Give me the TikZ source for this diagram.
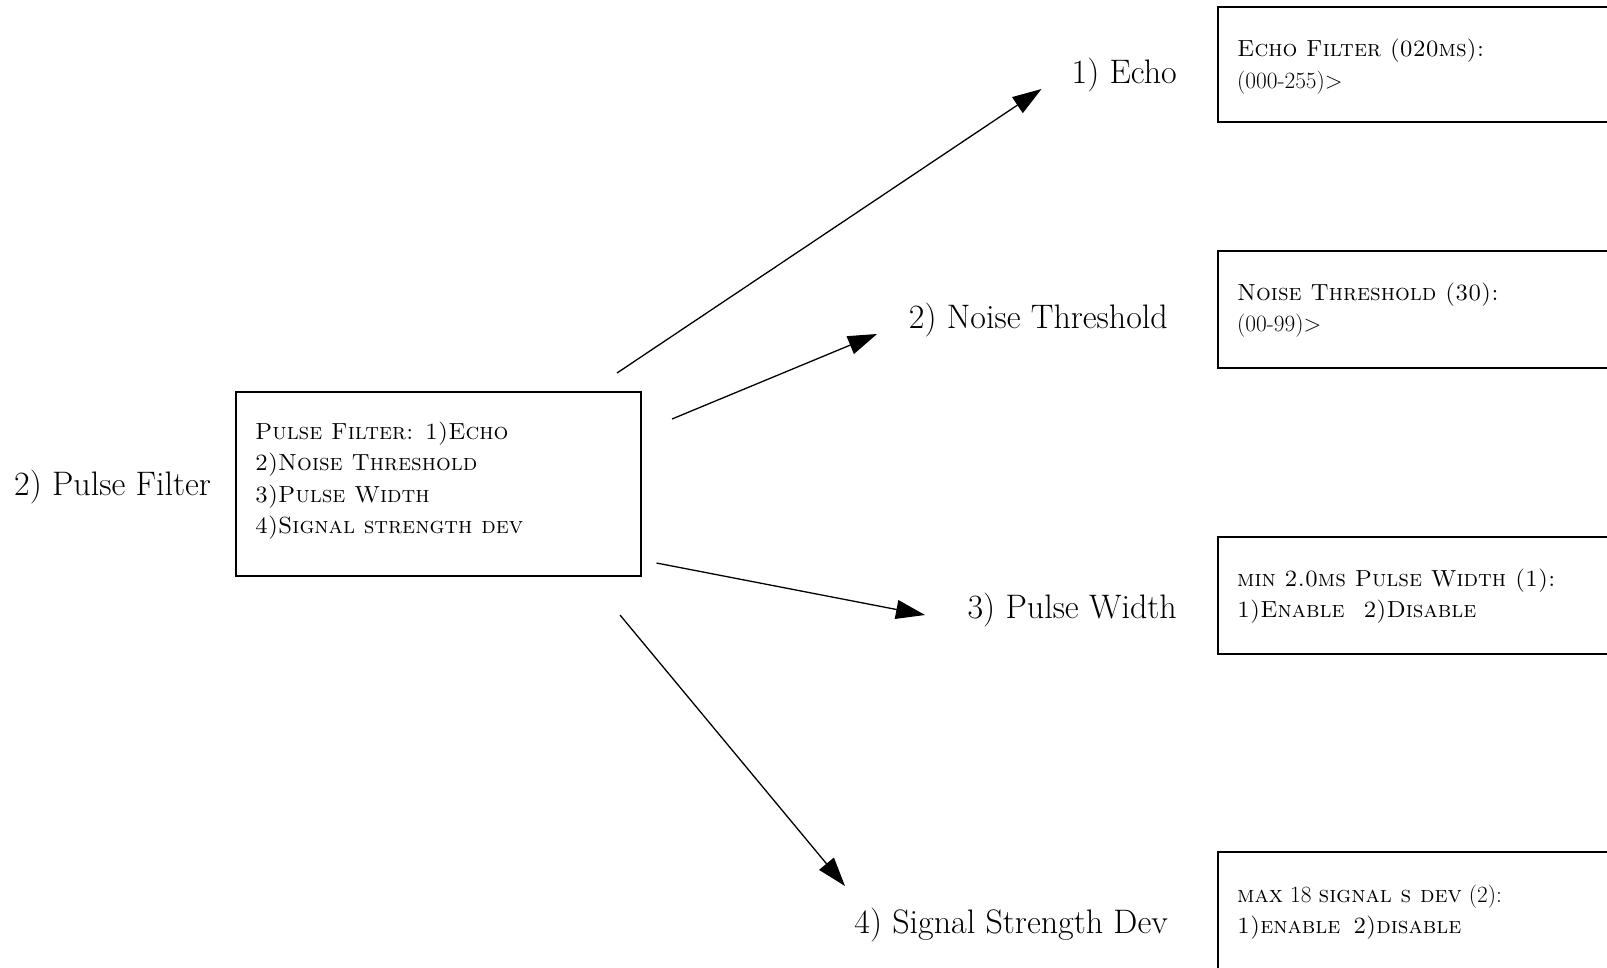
\documentclass[tikz,border=0pt]{standalone}
\usepackage{fontspec}
\usetikzlibrary{arrows.meta}
\begin{document}
\begin{tikzpicture}[x=1pt,y=-1pt,
  lbl/.style={inner sep=0pt, font=\fontsize{34}{40}\selectfont},
  boxtxt/.style={inner sep=0pt, anchor=base west, font=\fontsize{23.3}{30}\selectfont},
  frame/.style={draw=black, line width=2.2pt},
  conn/.style={draw=black, line width=1.3pt, -{Triangle[length=29pt,width=19pt]}}]
\useasboundingbox (0,0) rectangle (1607,967);
\clip (0,0) rectangle (1607,967);
% left box
\node[frame, anchor=north west, minimum width=405pt, minimum height=184pt, inner sep=0pt] (menu) at (235,391) {};
\node[boxtxt] (m1) at (255,439) {\textsc{Pulse Filter: 1)Echo}};
\node[boxtxt] (m2) at (255,470.5) {\textsc{2)Noise Threshold}};
\node[boxtxt] (m3) at (255,502) {\textsc{3)Pulse Width}};
\node[boxtxt] (m4) at (255,533.5) {\textsc{4)Signal strength dev}};
\node[lbl, anchor=base west] (pf) at (14,495) {2) Pulse Filter};
% right boxes
\node[frame, anchor=north west, minimum width=430pt, minimum height=115pt, inner sep=0pt] (b1) at (1217,5.5) {};
\node[boxtxt] (b1a) at (1237,56.5) {\textsc{Echo Filter (020ms):}};
\node[boxtxt] (b1b) at (1237,88) {(000-255)>};
\node[frame, anchor=north west, minimum width=430pt, minimum height=116.5pt, inner sep=0pt] (b2) at (1217,250) {};
\node[boxtxt] (b2a) at (1237,300) {\textsc{Noise Threshold (30):}};
\node[boxtxt] (b2b) at (1237,331.5) {(00-99)>};
\node[frame, anchor=north west, minimum width=430pt, minimum height=117pt, inner sep=0pt] (b3) at (1217,536) {};
\node[boxtxt] (b3a) at (1237,586) {\textsc{min 2.0ms Pulse Width (1):}};
\node[boxtxt] (b3b) at (1237,617) {\textsc{1)Enable}\hspace{19pt}\textsc{2)Disable}};
\node[frame, anchor=north west, minimum width=430pt, minimum height=150pt, inner sep=0pt] (b4) at (1217,851) {};
\node[boxtxt] (b4a) at (1237,902) {\textsc{max} 18 \textsc{signal s dev} (2):};
\node[boxtxt] (b4b) at (1237,933) {\textsc{1)enable}\hspace{13pt}\textsc{2)disable}};
% option labels
\node[lbl, anchor=base east] (o1) at (1177,83) {1) Echo};
\node[lbl, anchor=base east] (o2) at (1168,328) {2) Noise Threshold};
\node[lbl, anchor=base east] (o3) at (1177,618) {3) Pulse Width};
\node[lbl, anchor=base east] (o4) at (1168,933) {4) Signal Strength Dev};
% connector ends
\coordinate (s1) at (617,373);
\coordinate (t1) at (1041.5,89);
\coordinate (s2) at (672,419);
\coordinate (t2) at (877,334);
\coordinate (s3) at (656.5,563);
\coordinate (t3) at (925,615);
\coordinate (s4) at (620,615);
\coordinate (t4) at (845,886);
\draw[conn] (s1) -- (t1);
\draw[conn] (s2) -- (t2);
\draw[conn] (s3) -- (t3);
\draw[conn] (s4) -- (t4);
\end{tikzpicture}
\end{document}
